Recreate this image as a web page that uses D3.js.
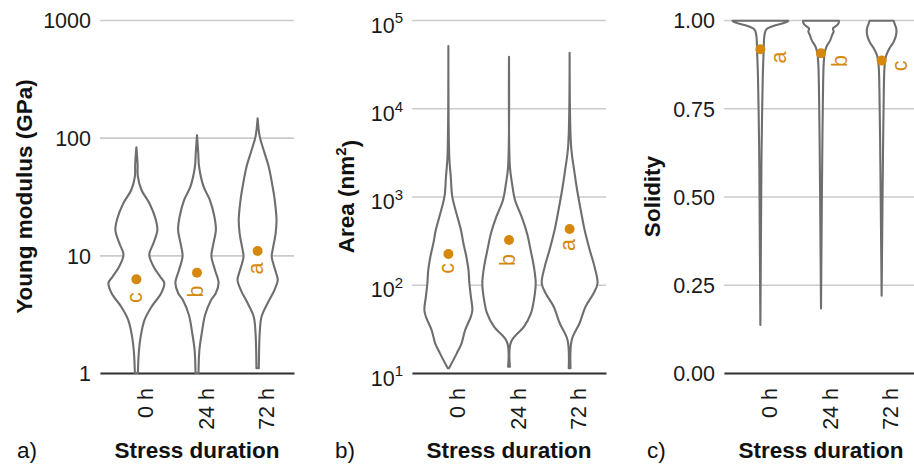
<!DOCTYPE html>
<html><head><meta charset="utf-8">
<script src="https://cdn.jsdelivr.net/npm/d3@7"></script>
<style>
body{margin:0;background:#fff}
svg{display:block}
text{font-family:"Liberation Sans",Arial,Helvetica,sans-serif}
</style>
</head><body>
<svg id="chart" width="914" height="464"></svg>
<script>
// ---------- DATA ----------
const categories = ["0 h", "24 h", "72 h"];

// tick values / labels
const modulusTicks = [1, 10, 100, 1000];
const modulusTickLabels = ["1", "10", "100", "1000"];
const areaTicks = [10, 100, 1000, 10000, 100000];
const areaTickExponents = ["1", "2", "3", "4", "5"];
const solidityTicks = [0, 0.25, 0.5, 0.75, 1];
const solidityTickLabels = ["0.00", "0.25", "0.50", "0.75", "1.00"];

// violin outlines: [value, relative density]
const modulus0h = [[82.8,0],[60,0.04],[46.6,0.05],[35.9,0.17],[27.8,0.43],[20,0.65],[16.4,0.70],[12.7,0.57],[10.1,0.43],[7.96,0.58],[6.55,0.80],[5.82,0.93],[4.79,0.83],[3.64,0.50],[2.82,0.27],[2.02,0.14],[1.48,0.08],[1.0,0.05]];
const modulus24h = [[105,0],[75,0.04],[56.6,0.07],[38.3,0.22],[29.5,0.43],[21.3,0.58],[16.4,0.63],[12.7,0.55],[9.86,0.48],[7.5,0.60],[5.82,0.72],[4.79,0.63],[4.17,0.47],[3.11,0.27],[2.19,0.16],[1.57,0.08],[1.0,0.05]];
const modulus72h = [[146,0],[102,0.07],[78.5,0.20],[56.6,0.37],[38.3,0.50],[29.5,0.57],[20,0.63],[15.4,0.60],[11.1,0.50],[9.73,0.47],[7.03,0.62],[6.17,0.67],[5.07,0.56],[3.91,0.33],[3.01,0.13],[2.19,0.07],[1.1,0.04]];

const area0h = [[50700,0],[2825,0.03],[1676,0.08],[995,0.13],[590,0.30],[417,0.42],[295,0.50],[208,0.60],[147,0.67],[104,0.70],[73.3,0.75],[51.8,0.80],[43.5,0.75],[30.7,0.56],[21.7,0.44],[16.7,0.28],[11.3,0.02]];
const area24h = [[38400,0],[2178,0.03],[1412,0.10],[913,0.20],[590,0.42],[383,0.60],[248,0.72],[160,0.83],[104,0.89],[67.1,0.83],[47.4,0.73],[33.5,0.50],[22.6,0.07],[11.8,0.03]];
const area72h = [[42600,0],[3666,0.05],[1995,0.15],[1185,0.25],[703,0.37],[417,0.50],[248,0.67],[160,0.83],[104,0.93],[80,0.80],[56.4,0.53],[36.6,0.33],[23.7,0.07],[11.3,0.03]];

const solidity0h = [[0.998,0.93],[0.994,0.87],[0.990,0.73],[0.986,0.53],[0.980,0.33],[0.976,0.23],[0.969,0.17],[0.953,0.13],[0.915,0.11],[0.839,0.08],[0.75,0.06],[0.632,0.04],[0.49,0.027],[0.136,0]];
const solidity24h = [[0.998,0.60],[0.990,0.58],[0.983,0.50],[0.976,0.40],[0.967,0.42],[0.957,0.37],[0.943,0.31],[0.924,0.18],[0.905,0.12],[0.877,0.09],[0.80,0.067],[0.6,0.04],[0.4,0.02],[0.183,0]];
const solidity72h = [[0.998,0.40],[0.99,0.43],[0.975,0.49],[0.957,0.48],[0.938,0.40],[0.918,0.25],[0.899,0.15],[0.871,0.10],[0.80,0.073],[0.6,0.043],[0.4,0.02],[0.219,0]];

// means (dots)
const modulusMeans = [6.25, 7.11, 10.9];
const areaMeans = [223, 321, 428];
const solidityMeans = [0.917, 0.906, 0.885];

// significance letters and the value at their centre
const modulusLetters = ["c", "b", "a"];
const modulusLetterValues = [4.38, 4.93, 7.73];
const areaLetters = ["c", "b", "a"];
const areaLetterValues = [153, 191, 282];
const solidityLetters = ["a", "b", "c"];
const solidityLetterValues = [0.894, 0.884, 0.870];

// ---------- DRAWING ----------
const svg = d3.select("#chart");
const plotTop = 20, plotBottom = 373, plotW = 194;
const orange = "#D4890E";
const wScale = d3.scaleLinear().domain([0, 1]).range([0, 30]);

const panels = [
  {left:100, y:d3.scaleLog().domain([1,1000]).range([plotBottom,plotTop]), ticks:modulusTicks, labels:modulusTickLabels,
   violins:[modulus0h, modulus24h, modulus72h], means:modulusMeans, letters:modulusLetters, letterValues:modulusLetterValues, letterDx:0,
   title:"Young modulus (GPa)", titleX:31.5, tag:"a)", tagX:17},
  {left:412, y:d3.scaleLog().domain([10,100000]).range([plotBottom,plotTop]), ticks:areaTicks, exps:areaTickExponents,
   violins:[area0h, area24h, area72h], means:areaMeans, letters:areaLetters, letterValues:areaLetterValues, letterDx:0,
   title:"Area", titleX:354, tag:"b)", tagX:335},
  {left:724, y:d3.scaleLinear().domain([0,1]).range([plotBottom,plotTop]), ticks:solidityTicks, labels:solidityTickLabels,
   violins:[solidity0h, solidity24h, solidity72h], means:solidityMeans, letters:solidityLetters, letterValues:solidityLetterValues, letterDx:20,
   title:"Solidity", titleX:660, tag:"c)", tagX:647}
];

panels.forEach(p => {
  const x = d3.scalePoint().domain(categories).range([p.left, p.left + plotW]).padding(0.6);
  const g = svg.append("g");

  // y axis with gridlines
  const yAxis = d3.axisLeft(p.y).tickValues(p.ticks).tickSize(-plotW).tickPadding(9)
    .tickFormat((d, i) => p.labels ? p.labels[i] : "10");
  const ya = g.append("g").attr("transform", `translate(${p.left},0)`).call(yAxis);
  ya.select(".domain").remove();
  ya.selectAll(".tick line").attr("stroke", "#cbcbcb").attr("stroke-width", 1.7);
  ya.selectAll(".tick text").attr("fill", "#1a1a1a").attr("font-size", 21.5)
    .attr("font-family", "Liberation Sans, Arial, sans-serif");
  if (p.exps) {
    ya.selectAll(".tick text").attr("dy", "0.56em").each(function(d, i) {
      d3.select(this).append("tspan").attr("dy", "-0.62em").attr("font-size", 15).text(p.exps[i]);
    });
  } else {
    ya.selectAll(".tick text").attr("dy", "0.36em");
  }

  // x axis
  const xa = g.append("g").attr("transform", `translate(0,${plotBottom})`)
    .call(d3.axisBottom(x).tickSize(0).tickSizeOuter(0));
  xa.select(".domain").attr("stroke", "#333").attr("stroke-width", 2.2);
  xa.selectAll(".tick text").attr("transform", "rotate(-90)")
    .attr("x", -15).attr("y", 16).attr("dy", 0).attr("text-anchor", "end")
    .attr("fill", "#1a1a1a").attr("font-size", 21.5)
    .attr("font-family", "Liberation Sans, Arial, sans-serif");

  // violins
  p.violins.forEach((prof, i) => {
    const cx = x(categories[i]);
    const ar = d3.area().curve(d3.curveCatmullRom.alpha(0.5))
      .y(d => p.y(d[0])).x0(d => cx - wScale(d[1])).x1(d => cx + wScale(d[1]));
    g.append("path").attr("d", ar(prof)).attr("fill", "#fff")
      .attr("stroke", "#6e6e6e").attr("stroke-width", 2.1).attr("stroke-linejoin", "round");
  });

  // means
  g.selectAll("circle.mean").data(p.means).join("circle")
    .attr("cx", (d, i) => x(categories[i])).attr("cy", d => p.y(d)).attr("r", 5).attr("fill", orange);

  // letters
  g.selectAll("text.letter").data(p.letters).join("text")
    .attr("transform", (d, i) => `translate(${x(categories[i]) + p.letterDx},${p.y(p.letterValues[i])}) rotate(-90)`)
    .attr("text-anchor", "middle").attr("dy", "0.26em").attr("font-size", 21.5).attr("fill", orange).text(d => d);

  // y title
  const t = g.append("text").attr("transform", `translate(${p.titleX},${(plotTop + plotBottom) / 2}) rotate(-90)`)
    .attr("text-anchor", "middle").attr("font-size", 22.5).attr("font-weight", "bold").attr("fill", "#111").text(p.title);
  if (p.tag === "b)") {
    t.text("Area (nm");
    t.append("tspan").attr("dy", "-0.55em").attr("font-size", 15).text("2");
    t.append("tspan").attr("dy", "0.55em").text(")");
  }

  // x title
  g.append("text").attr("x", p.left + plotW / 2).attr("y", 458).attr("text-anchor", "middle")
    .attr("font-size", 22.5).attr("font-weight", "bold").attr("fill", "#111").text("Stress duration");

  // panel tag
  g.append("text").attr("x", p.tagX).attr("y", 458).attr("font-size", 22.5).attr("fill", "#111").text(p.tag);
});
</script>
</body></html>
